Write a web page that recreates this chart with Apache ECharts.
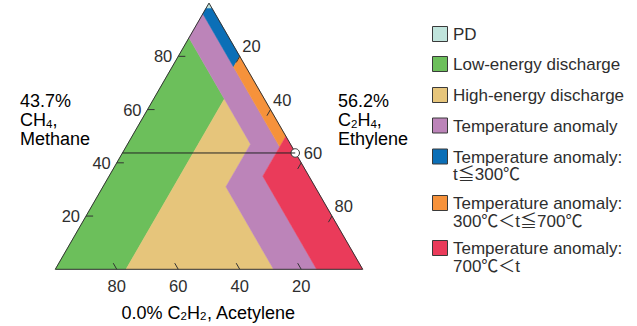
<!DOCTYPE html>
<html>
<head>
<meta charset="utf-8">
<script src="https://cdn.jsdelivr.net/npm/echarts@6/dist/echarts.min.js"></script>
<style>html,body{margin:0;padding:0;background:#fff;}#c{width:637px;height:326px;}</style>
</head>
<body>
<div id="c"></div>
<script>
// Duval triangle zones, vertices as [CH4 %, C2H4 %, C2H2 %]
const zoneNames = ['PD', 'Low-energy discharge', 'High-energy discharge', 'Temperature anomaly',
  'Temperature anomaly: t≦300℃', 'Temperature anomaly: 300℃＜t≦700℃', 'Temperature anomaly: 700℃＜t'];
const zonePD = [[100, 0, 0], [98, 0, 2], [98, 2, 0]];
const zoneD1 = [[0, 0, 100], [0, 23, 77], [64, 23, 13], [87, 0, 13]];
const zoneD2 = [[0, 23, 77], [0, 71, 29], [31, 40, 29], [47, 40, 13], [64, 23, 13]];
const zoneDT = [[0, 71, 29], [31, 40, 29], [47, 40, 13], [87, 0, 13], [96, 0, 4], [46, 50, 4], [35, 50, 15], [0, 85, 15]];
const zoneT1 = [[98, 2, 0], [98, 0, 2], [96, 0, 4], [76, 20, 4], [80, 20, 0]];
const zoneT2 = [[80, 20, 0], [76, 20, 4], [46, 50, 4], [50, 50, 0]];
const zoneT3 = [[50, 50, 0], [35, 50, 15], [0, 85, 15], [0, 100, 0]];
const zones = [zonePD, zoneD1, zoneD2, zoneDT, zoneT1, zoneT2, zoneT3];
const zoneColors = ['#c0e4dc', '#6cbf5b', '#e6c57b', '#bc84b9', '#0b6fb7', '#f6923b', '#ea3b5a'];

// axis ticks
const ticksCH4 = [20, 40, 60, 80];
const ticksC2H4 = [20, 40, 60, 80];
const ticksC2H2 = [80, 60, 40, 20];

// sample gas composition
const sampleCH4 = 43.7;
const sampleC2H4 = 56.2;
const sampleC2H2 = 0.0;

const legendLabels = ['PD', 'Low-energy discharge', 'High-energy discharge', 'Temperature anomaly',
  'Temperature anomaly:\nt≦300℃', 'Temperature anomaly:\n300℃＜t≦700℃', 'Temperature anomaly:\n700℃＜t'];

const FONT = "'Liberation Sans', Arial, 'Noto Sans CJK JP', sans-serif";
const TXT = '#2e2e2e';
const FS = 16.5;
const FS_LEG = 17;
const FS_TITLE = 18;
const LH_TITLE = 19;
const S3 = Math.sqrt(3) / 2;
function tern(ch4, c2h4) { return [c2h4 + ch4 / 2, ch4 * S3]; }

const chart = echarts.init(document.getElementById('c'), null, { renderer: 'svg' });

// tick items: [axis, value]
const tickItems = [];
ticksCH4.forEach(v => tickItems.push(['CH4', v]));
ticksC2H4.forEach(v => tickItems.push(['C2H4', v]));
ticksC2H2.forEach(v => tickItems.push(['C2H2', v]));
const TL = 2.3;

const legendY = [34.5, 64.5, 95.5, 126, 157, 203.5, 248.5];
const graphics = [];
legendLabels.forEach((lab, i) => {
  graphics.push({ type: 'rect', x: 432.5, y: legendY[i] - 8, shape: { width: 15, height: 15 },
    style: { fill: zoneColors[i], stroke: '#3a3a3a', lineWidth: 1 } });
  graphics.push({ type: 'text', x: 453, y: legendY[i] - 8.8,
    style: { text: lab, font: FS_LEG + 'px ' + FONT, fill: TXT, lineHeight: 17.6, verticalAlign: 'top', align: 'left' } });
});
const rich = {
  n: { fontSize: FS_TITLE, fontFamily: FONT, color: TXT, lineHeight: LH_TITLE },
  s: { fontSize: 11.5, fontFamily: FONT, color: TXT, lineHeight: LH_TITLE, verticalAlign: 'bottom' }
};
graphics.push({ type: 'text', x: 20, y: 91.5,
  style: { text: '{n|' + sampleCH4.toFixed(1) + '%}\n{n|CH}{s|4}{n|,}\n{n|Methane}', rich: rich, verticalAlign: 'top', align: 'left' } });
graphics.push({ type: 'text', x: 338, y: 91.5,
  style: { text: '{n|' + sampleC2H4.toFixed(1) + '%}\n{n|C}{s|2}{n|H}{s|4}{n|,}\n{n|Ethylene}', rich: rich, verticalAlign: 'top', align: 'left' } });
graphics.push({ type: 'text', x: 208.5, y: 303,
  style: { text: '{n|' + sampleC2H2.toFixed(1) + '% C}{s|2}{n|H}{s|2}{n|, Acetylene}', rich: rich, verticalAlign: 'top', align: 'center' } });

const option = {
  animation: false,
  grid: { left: 55.3, top: 3.1, width: 307.4, height: 266.2 },
  xAxis: { type: 'value', min: 0, max: 100, show: false },
  yAxis: { type: 'value', min: 0, max: 100 * S3, show: false },
  graphic: graphics,
  series: [
    {
      type: 'custom', name: 'zones', clip: false,
      data: zones.map((z, i) => [i, 0]),
      renderItem: function (params, api) {
        const i = params.dataIndex;
        const pts = zones[i].map(v => api.coord(tern(v[0], v[1])));
        return { type: 'polygon', shape: { points: pts },
          style: { fill: zoneColors[i], stroke: zoneColors[i], lineWidth: 0.5 } };
      }
    },
    {
      type: 'custom', name: 'outline', clip: false,
      data: [[0, 0]],
      renderItem: function (params, api) {
        const pts = [tern(0, 0), tern(0, 100), tern(100, 0)].map(p => api.coord(p));
        return { type: 'polygon', shape: { points: pts },
          style: { fill: 'none', stroke: '#333', lineWidth: 1 } };
      }
    },
    {
      type: 'custom', name: 'ticks', clip: false,
      data: tickItems.map((t, i) => [i, 0]),
      renderItem: function (params, api) {
        const t = tickItems[params.dataIndex];
        const v = t[1];
        let a, b, label;
        if (t[0] === 'CH4') {
          a = api.coord(tern(v, 0)); b = api.coord(tern(v, TL));
          label = { x: a[0] - 6, y: a[1], align: 'right', verticalAlign: 'middle' };
        } else if (t[0] === 'C2H4') {
          a = api.coord(tern(100 - v, v)); b = api.coord(tern(100 - v - TL, v));
          label = { x: a[0] + 2.5, y: a[1] - 10, align: 'left', verticalAlign: 'middle' };
        } else {
          a = api.coord(tern(0, 100 - v)); b = api.coord(tern(TL, 100 - v - TL));
          label = { x: a[0], y: a[1] + 17, align: 'center', verticalAlign: 'middle' };
        }
        return { type: 'group', children: [
          { type: 'line', shape: { x1: a[0], y1: a[1], x2: b[0], y2: b[1] }, style: { stroke: '#333', lineWidth: 1 } },
          { type: 'text', x: label.x, y: label.y,
            style: { text: String(v), font: FS + 'px ' + FONT, fill: TXT, align: label.align, verticalAlign: label.verticalAlign } }
        ] };
      }
    },
    {
      type: 'line', name: 'guide', silent: true, symbol: 'none',
      data: [tern(sampleCH4, 0), tern(sampleCH4, sampleC2H4)],
      lineStyle: { color: '#222', width: 1 }
    },
    {
      type: 'scatter', name: 'sample', silent: true,
      data: [tern(sampleCH4, sampleC2H4)],
      symbolSize: 8.5,
      itemStyle: { color: '#fff', borderColor: '#333', borderWidth: 1, opacity: 1 }
    }
  ]
};
chart.setOption(option);
</script>
</body>
</html>
